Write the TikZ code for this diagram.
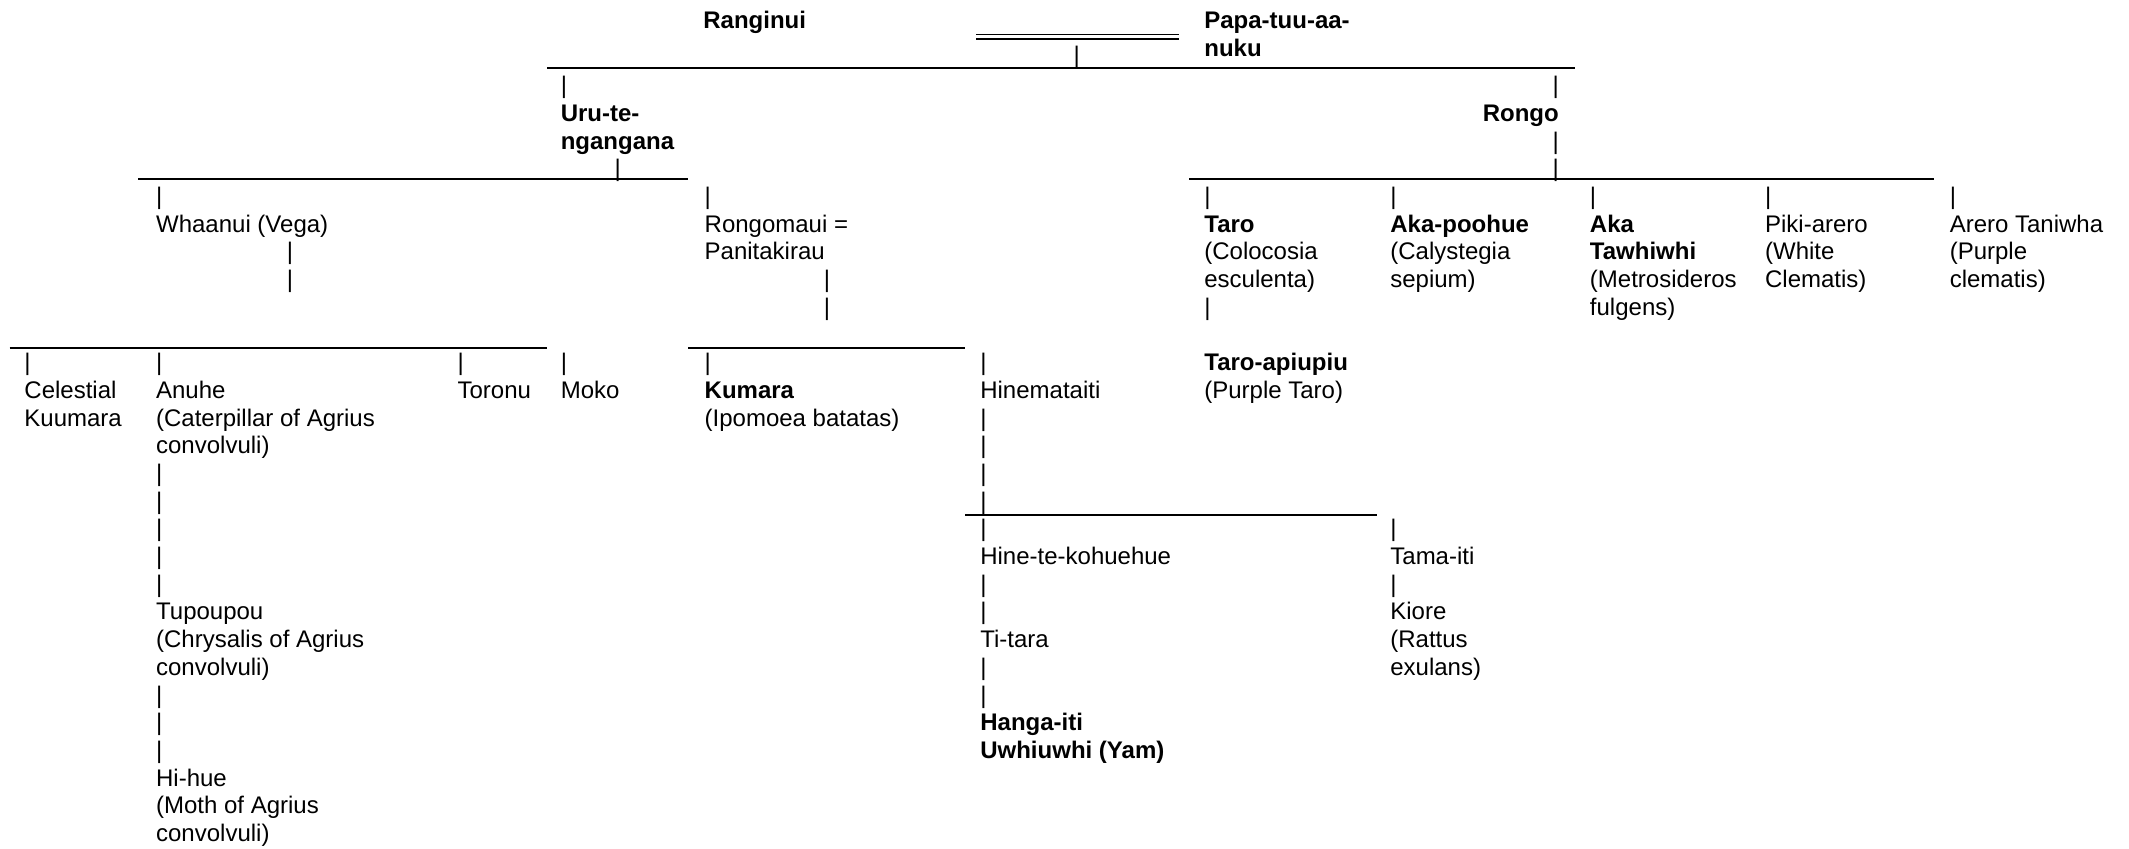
\documentclass[tikz,border=0pt]{standalone}
\usepackage{fontspec}
\setmainfont{Liberation Sans}
\newcommand\fs{\fontsize{24pt}{27.7pt}\selectfont}
\newcommand\rowy[1]{{69+20.4*#1}}
\begin{document}
\begin{tikzpicture}[x=1.3578pt, y=-1.3578pt,
  t/.style={anchor=base west, inner sep=0pt, outer sep=0pt, align=left, font=\fs},
  tb/.style={t, font=\fs\bfseries},
  tr/.style={anchor=base east, inner sep=0pt, outer sep=0pt, align=right, font=\fs\bfseries},
  pipe/.style={anchor=base, inner sep=0pt, outer sep=0pt, font=\fs},
  rule/.style={line width=2pt},
  thinrule/.style={line width=1.5pt}]
\useasboundingbox (0,0) rectangle (1568,625);

% multi-line nodes are anchored at the baseline of their LAST line

% ---- top couple
\node[tb] (ranginui) at (518,21) {Ranginui};
\node[tb] (papa) at (887,41.4) {Papa-tuu-aa-\\nuku};
\coordinate (dla) at (719,25.3); \coordinate (dlb) at (868,25.3);
\coordinate (dlc) at (719,28.7); \coordinate (dld) at (868,28.7);
\draw[thinrule] (dla) -- (dlb);
\draw[thinrule] (dlc) -- (dld);
\node[pipe] (ptop) at (793,46.5) {|};
\coordinate (l1a) at (403,50); \coordinate (l1b) at (1160,50);
\draw[rule] (l1a) -- (l1b);

% ---- Uru-te-ngangana and Rongo
\node[pipe] (pu0) at (415.3,\rowy{0}) {|};
\node[tb] (uru) at (413,\rowy{2}) {Uru-te-\\ngangana};
\node[pipe] (pu3) at (455,\rowy{3}) {|};
\node[pipe] (pr0) at (1145.7,\rowy{0}) {|};
\node[tr] (rongo) at (1148,\rowy{1}) {Rongo};
\node[pipe] (pr2) at (1145.7,\rowy{2}) {|};
\node[pipe] (pr3) at (1145.7,\rowy{3}) {|};
\coordinate (l2a) at (102,132); \coordinate (l2b) at (507,132);
\coordinate (l2c) at (876,132); \coordinate (l2d) at (1424,132);
\draw[rule] (l2a) -- (l2b);
\draw[rule] (l2c) -- (l2d);

% ---- children of Uru-te-ngangana
\node[pipe] (pw4) at (117.3,\rowy{4}) {|};
\node[t] (whaanui) at (115,\rowy{5}) {Whaanui (Vega)};
\node[pipe] (pw6) at (213.5,\rowy{6}) {|};
\node[pipe] (pw7) at (213.5,\rowy{7}) {|};

\node[pipe] (pm4) at (521.3,\rowy{4}) {|};
\node[t] (rongomaui) at (519,\rowy{6}) {Rongomaui =\\Panitakirau};
\node[pipe] (pm7) at (609,\rowy{7}) {|};
\node[pipe] (pm8) at (609,\rowy{8}) {|};

% ---- children of Rongo
\node[pipe] (pt4) at (889.3,\rowy{4}) {|};
\node[t] (taro) at (887,\rowy{7}) {\textbf{Taro}\\(Colocosia\\esculenta)};
\node[pipe] (pt8) at (889.3,\rowy{8}) {|};
\node[t] (taroap) at (887,\rowy{11}) {\textbf{Taro-apiupiu}\\(Purple Taro)};

\node[pipe] (pa4) at (1026.3,\rowy{4}) {|};
\node[t] (akapoohue) at (1024,\rowy{7}) {\textbf{Aka-poohue}\\(Calystegia\\sepium)};

\node[pipe] (pk4) at (1173.3,\rowy{4}) {|};
\node[t] (akatawhiwhi) at (1171,\rowy{8}) {\textbf{Aka}\\\textbf{Tawhiwhi}\\(Metrosideros\\fulgens)};

\node[pipe] (pp4) at (1302.3,\rowy{4}) {|};
\node[t] (pikiarero) at (1300,\rowy{7}) {Piki-arero\\(White\\Clematis)};

\node[pipe] (pn4) at (1438.3,\rowy{4}) {|};
\node[t] (arero) at (1436,\rowy{7}) {Arero Taniwha\\(Purple\\clematis)};

% ---- third level lines
\coordinate (l3a) at (7,256); \coordinate (l3b) at (403,256);
\coordinate (l3c) at (507,256); \coordinate (l3d) at (711,256);
\draw[rule] (l3a) -- (l3b);
\draw[rule] (l3c) -- (l3d);

% ---- children of Whaanui
\node[pipe] (pc10) at (20.3,\rowy{10}) {|};
\node[t] (celestial) at (18,\rowy{12}) {Celestial\\Kuumara};

\node[pipe] (pan10) at (117.3,\rowy{10}) {|};
\node[t] (anuhe) at (115,\rowy{13}) {Anuhe\\(Caterpillar of Agrius\\convolvuli)};
\foreach \k in {14,...,18} \node[pipe] (pan\k) at (117.3,\rowy{\k}) {|};
\node[t] (tupoupou) at (115,\rowy{21}) {Tupoupou\\(Chrysalis of Agrius\\convolvuli)};
\foreach \k in {22,23,24} \node[pipe] (pan\k) at (117.3,\rowy{\k}) {|};
\node[t] (hihue) at (115,\rowy{27}) {Hi-hue\\(Moth of Agrius\\convolvuli)};

\node[pipe] (pto10) at (339.3,\rowy{10}) {|};
\node[t] (toronu) at (337,\rowy{11}) {Toronu};

\node[pipe] (pmo10) at (415.3,\rowy{10}) {|};
\node[t] (moko) at (413,\rowy{11}) {Moko};

% ---- children of Rongomaui
\node[pipe] (pku10) at (521.3,\rowy{10}) {|};
\node[t] (kumara) at (519,\rowy{12}) {\textbf{Kumara}\\(Ipomoea batatas)};

\node[pipe] (phm10) at (724.3,\rowy{10}) {|};
\node[t] (hinemataiti) at (722,\rowy{11}) {Hinemataiti};
\foreach \k in {12,...,15} \node[pipe] (phm\k) at (724.3,\rowy{\k}) {|};

\coordinate (l4a) at (711,379); \coordinate (l4b) at (1014,379);
\draw[rule] (l4a) -- (l4b);

% ---- children of Hinemataiti
\node[pipe] (phk16) at (724.3,\rowy{16}) {|};
\node[t] (hinetek) at (722,\rowy{17}) {Hine-te-kohuehue};
\node[pipe] (phk18) at (724.3,\rowy{18}) {|};
\node[pipe] (phk19) at (724.3,\rowy{19}) {|};
\node[t] (titara) at (722,\rowy{20}) {Ti-tara};
\node[pipe] (phk21) at (724.3,\rowy{21}) {|};
\node[pipe] (phk22) at (724.3,\rowy{22}) {|};
\node[t] (hangaiti) at (722,\rowy{24}) {\textbf{Hanga-iti}\\\textbf{Uwhiuwhi (Yam)}};

\node[pipe] (pti16) at (1026.3,\rowy{16}) {|};
\node[t] (tamaiti) at (1024,\rowy{17}) {Tama-iti};
\node[pipe] (pti18) at (1026.3,\rowy{18}) {|};
\node[t] (kiore) at (1024,\rowy{21}) {Kiore\\(Rattus\\exulans)};
\end{tikzpicture}
\end{document}
